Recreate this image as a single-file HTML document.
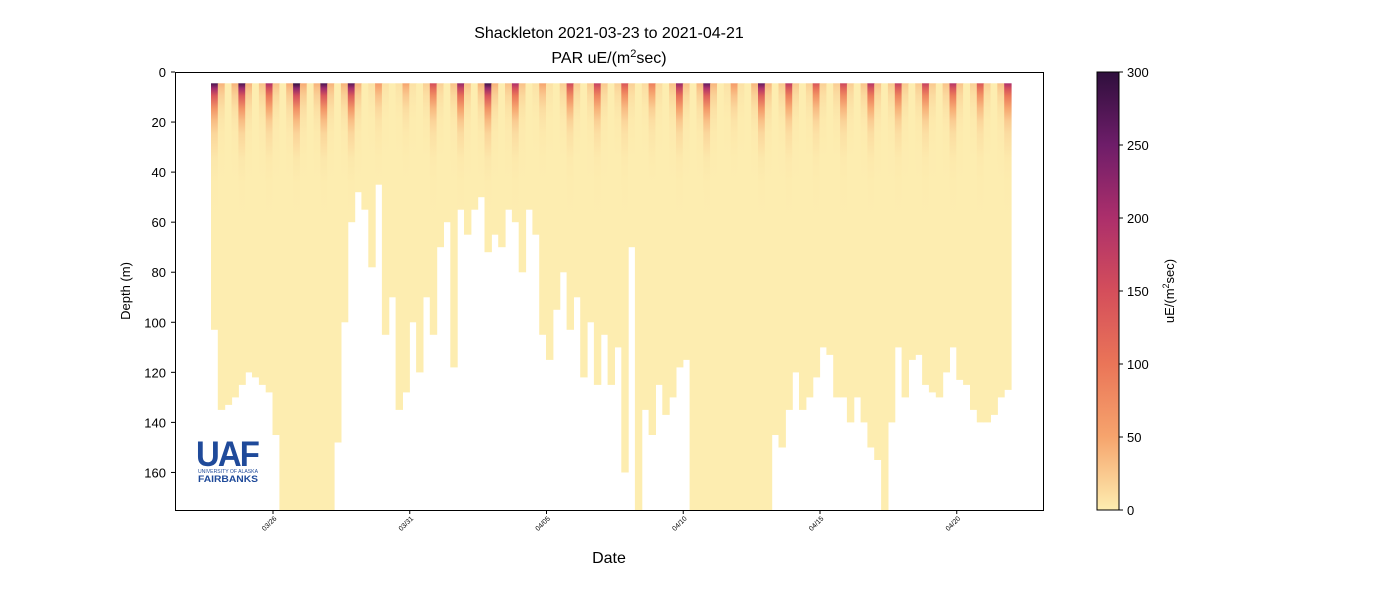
<!DOCTYPE html>
<html><head><meta charset="utf-8">
<style>
body{margin:0;background:#fff;}
svg text{font-family:"Liberation Sans","DejaVu Sans",sans-serif;fill:#000;}
</style></head>
<body>
<svg id="chart" width="1400" height="600" xmlns="http://www.w3.org/2000/svg">
<defs id="defs">
<linearGradient id="cbgrad" x1="0" y1="1" x2="0" y2="0">
<stop offset="0" stop-color="#fdedb0"/><stop offset="0.167" stop-color="#f6a46d"/><stop offset="0.333" stop-color="#ea7558"/><stop offset="0.5" stop-color="#d44e5b"/><stop offset="0.667" stop-color="#ac2f6b"/><stop offset="0.833" stop-color="#6e1d69"/><stop offset="1" stop-color="#2f0f3d"/>
</linearGradient>
</defs>
<text x="609" y="38" font-size="16" text-anchor="middle">Shackleton 2021-03-23 to 2021-04-21</text>
<text x="609" y="63" font-size="16" text-anchor="middle">PAR uE/(m<tspan baseline-shift="super" font-size="11">2</tspan>sec)</text>
<g id="plot"></g>
<rect x="175.5" y="72.5" width="868" height="438" fill="none" stroke="#000" stroke-width="1"/>
<g id="axes"></g>
<text x="609" y="563" font-size="16" text-anchor="middle">Date</text>
<text transform="translate(130,291) rotate(-90)" font-size="13" text-anchor="middle">Depth (m)</text>
<g>
<text x="196" y="466" font-size="35" font-weight="bold" fill="#1f4a9a" style="fill:#1f4a9a;letter-spacing:-2px" textLength="62" lengthAdjust="spacingAndGlyphs">UAF</text>
<text x="198" y="473" font-size="5" style="fill:#1f4a9a" textLength="60" lengthAdjust="spacingAndGlyphs">UNIVERSITY OF ALASKA</text>
<text x="198" y="482" font-size="9" font-weight="bold" style="fill:#1f4a9a" textLength="60" lengthAdjust="spacingAndGlyphs">FAIRBANKS</text>
</g>
<rect x="1097" y="72" width="22" height="438" fill="url(#cbgrad)" stroke="#000" stroke-width="1"/>
<g id="cbaxis"></g>
<text transform="translate(1174,291) rotate(-90)" font-size="13" text-anchor="middle">uE/(m<tspan baseline-shift="super" font-size="9">2</tspan>sec)</text>
</svg>
<script>
const startDay = -2.23; // days relative to 03/26 00:00
const stepDay = 0.25;
const bottomDepths = [103,135,133,130,125,120,122,125,128,145,175,175,175,175,175,175,175,175,148,100,60,48,55,78,45,105,90,135,128,100,120,90,105,70,60,118,55,65,55,50,72,65,70,55,60,80,55,65,105,115,95,80,103,90,122,100,125,105,125,110,160,70,175,135,145,125,137,130,118,115,175,175,175,175,175,175,175,175,175,175,175,175,145,150,135,120,135,130,122,110,113,130,130,140,130,140,150,155,175,140,110,130,115,113,125,128,130,120,110,123,125,135,140,140,137,130,127];
const surfacePAR = [280,40,0,40,280,40,0,30,200,30,0,45,300,45,0,40,280,40,0,40,270,40,0,8,60,8,0,8,50,8,0,20,150,20,0,30,220,30,0,40,290,40,0,30,200,30,0,8,50,8,0,22,160,22,0,25,170,25,0,20,140,20,0,12,90,12,0,30,220,30,0,38,260,38,0,8,60,8,0,38,260,38,0,25,180,25,0,20,140,20,0,22,160,22,0,28,190,28,0,25,170,25,0,25,170,25,0,28,190,28,0,20,140,20,0,30,200];
const yTicks = [0,20,40,60,80,100,120,140,160];
const xTickDays = [0,5,10,15,20,25];
const xTickLabels = ["03/26","03/31","04/05","04/10","04/15","04/20"];
const cbTicks = [0,50,100,150,200,250,300];

const X0=175,X1=1043,Y0=72,Y1=510;
const xScale = d => 273 + d*27.35;
const yScale = z => Y0 + z*(Y1-Y0)/175;
const cbScale = v => 510 - v*(438/300);
const stops=[[0,[253,237,176]],[50,[246,164,109]],[100,[234,117,88]],[150,[212,78,91]],[200,[172,47,107]],[250,[110,29,105]],[300,[47,15,61]]];
function cmap(v){v=Math.max(0,Math.min(300,v));for(let i=1;i<stops.length;i++){if(v<=stops[i][0]){const a=stops[i-1],b=stops[i],t=(v-a[0])/(b[0]-a[0]);return 'rgb('+a[1].map((c,j)=>Math.round(c+(b[1][j]-c)*t)).join(',')+')';}}return 'rgb(47,15,61)';}
const NS='http://www.w3.org/2000/svg';
function mk(tag,attrs,parent){const e=document.createElementNS(NS,tag);for(const k in attrs)e.setAttribute(k,attrs[k]);parent.appendChild(e);return e;}
const plot=document.getElementById('plot'),defs=document.getElementById('defs'),axes=document.getElementById('axes'),cbaxis=document.getElementById('cbaxis');
bottomDepths.forEach((bd,i)=>{
  const d=startDay+i*stepDay;
  const x=xScale(d)-1, w=xScale(d+stepDay)-xScale(d)+0.6;
  const top=yScale(4.5), bot=yScale(Math.min(bd,175));
  const s=surfacePAR[i];
  const g=mk('linearGradient',{id:'g'+i,gradientUnits:'userSpaceOnUse',x1:0,y1:top,x2:0,y2:yScale(60)},defs);
  [0,2,5,10,15,20,30,40,55.5].forEach(dz=>{
    mk('stop',{offset:(dz/55.5).toFixed(3),'stop-color':cmap(s*Math.exp(-dz/7))},g);
  });
  const r=mk('rect',{x:x.toFixed(1),y:top.toFixed(1),width:w.toFixed(1),height:(bot-top).toFixed(1),fill:'url(#g'+i+')'},plot);
  
  
});
yTicks.forEach(v=>{
  const y=yScale(v);
  const l=mk('line',{x1:171,x2:175,y1:y,y2:y,stroke:'#000'},axes);
  
  
  const t=mk('text',{x:166,y:y+5,'font-size':13,'text-anchor':'end'},axes);
  t.textContent=v;
  
  
});
xTickDays.forEach((d,i)=>{
  const x=xScale(d);
  const l=mk('line',{x1:x,x2:x,y1:510,y2:514,stroke:'#000'},axes);
  
  
  const t=mk('text',{transform:'translate('+(x+4)+',519) rotate(-45)','font-size':7,'text-anchor':'end'},axes);
  t.textContent=xTickLabels[i];
  
  
});
cbTicks.forEach(v=>{
  const y=cbScale(v);
  const l=mk('line',{x1:1119,x2:1123,y1:y,y2:y,stroke:'#000'},cbaxis);
  
  
  const t=mk('text',{x:1127,y:y+5,'font-size':13},cbaxis);
  t.textContent=v;
  
  
});
</script>
</body></html>
